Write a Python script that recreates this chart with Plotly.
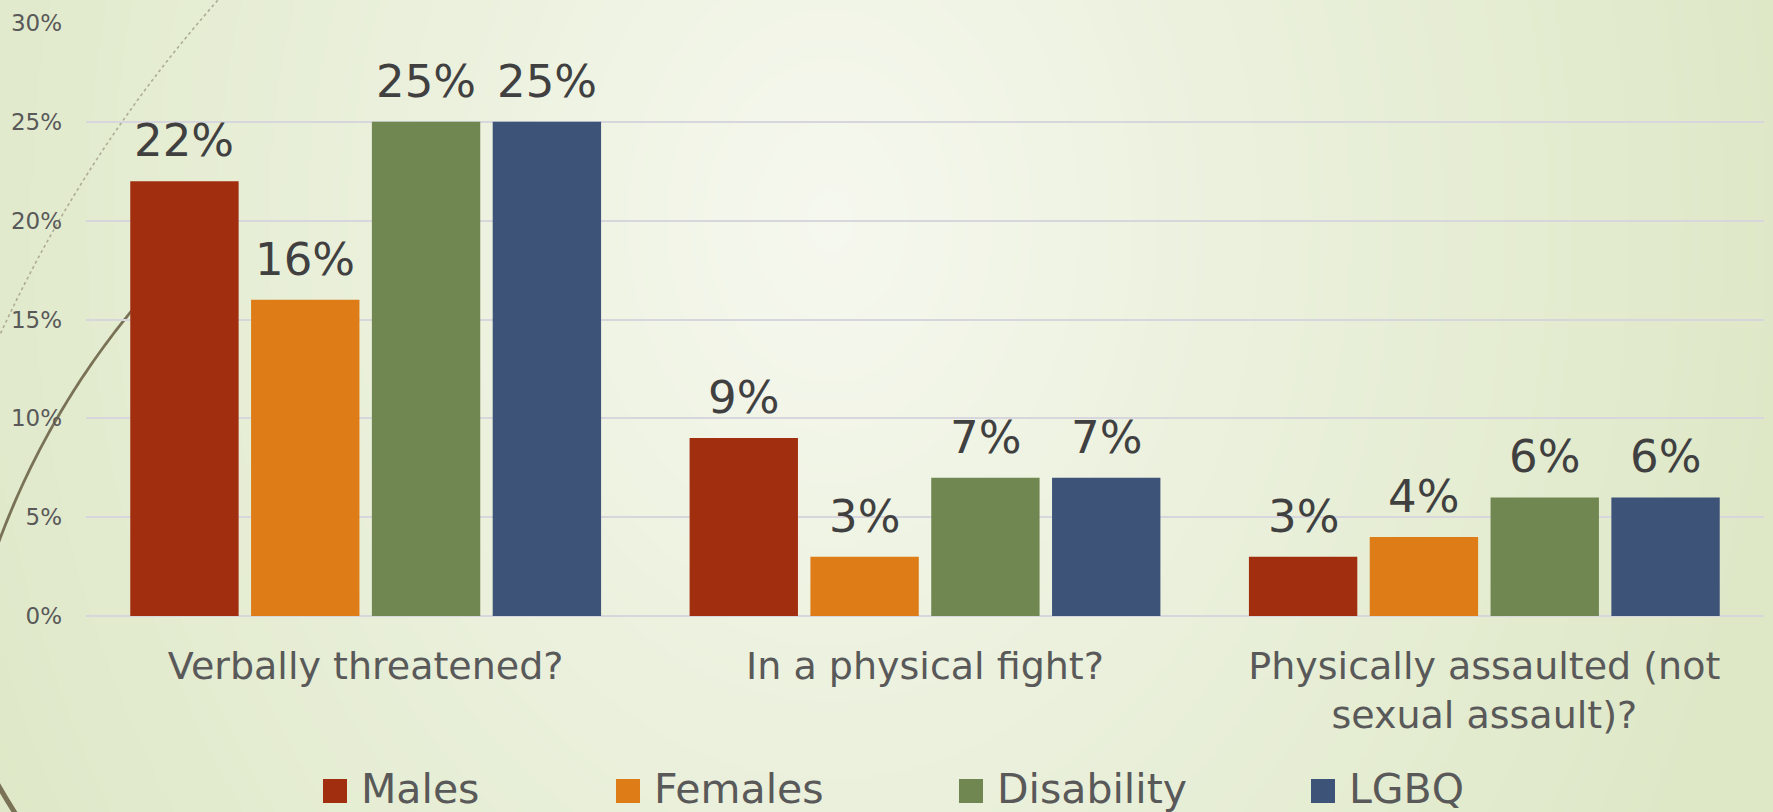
import base64
import math
import struct
import zlib

import numpy as np
import plotly.graph_objects as go

# ---- data -------------------------------------------------------------
categories = [
    "Verbally threatened?",
    "In a physical fight?",
    "Physically assaulted (not<br>sexual assault)?",
]
series_names = ["Males", "Females", "Disability", "LGBQ"]
males = [22, 9, 3]
females = [16, 3, 4]
disability = [25, 7, 6]
lgbq = [25, 7, 6]
y_ticks = [0, 5, 10, 15, 20, 25, 30]
y_tick_labels = ["0%", "5%", "10%", "15%", "20%", "25%", "30%"]

# ---- style ------------------------------------------------------------
colors = ["#A22E10", "#DE7C18", "#718752", "#3E5378"]
FONT = "DejaVu Sans"
W, H = 1773, 812
M_L, M_R, M_T, M_B = 86, 9, 23, 196
PW = W - M_L - M_R
PH = H - M_T - M_B
BARGAP, GROUPGAP = 0.136, 0.103
SLOT_PX = PW / len(categories) * (1 - BARGAP) / len(series_names)


def px(x):
    """pixel x -> paper x"""
    return (x - M_L) / PW


def py(y):
    """pixel y (from top) -> paper y"""
    return (H - M_B - y) / PH


def png_data_uri(rgb):
    h, w, _ = rgb.shape
    raw = b"".join(b"\x00" + rgb[r].tobytes() for r in range(h))

    def chunk(tag, data):
        return (struct.pack(">I", len(data)) + tag + data
                + struct.pack(">I", zlib.crc32(tag + data) & 0xFFFFFFFF))

    png = (b"\x89PNG\r\n\x1a\n"
           + chunk(b"IHDR", struct.pack(">IIBBBBB", w, h, 8, 2, 0, 0, 0))
           + chunk(b"IDAT", zlib.compress(raw, 9))
           + chunk(b"IEND", b""))
    return "data:image/png;base64," + base64.b64encode(png).decode()


def background():
    w, h = 444, 203
    xs = np.linspace(0, W, w)[None, :]
    ys = np.linspace(0, H, h)[:, None]
    t = np.sqrt(((xs - 830) / 960) ** 2 + ((ys - 220) / 1250) ** 2)
    t = np.clip(t, 0, 1) ** 0.95
    c0 = np.array([246, 248, 239], dtype=float)
    c1 = np.array([222, 232, 199], dtype=float)
    img = c0 + (c1 - c0) * t[..., None]
    return png_data_uri(np.round(img).astype(np.uint8))


def arc_path(cx, cy, r, x_from, x_to, upper=True, n=80):
    """Polyline (paper units) along a circle given in pixel space."""
    pts = []
    for k in range(n + 1):
        x = x_from + (x_to - x_from) * k / n
        dy = math.sqrt(max(r * r - (x - cx) ** 2, 0.0))
        y = cy - dy if upper else cy + dy
        pts.append((px(x), py(y)))
    return "M " + " L ".join(f"{a:.5f},{b:.5f}" for a, b in pts)


fig = go.Figure()

series = [males, females, disability, lgbq]
annotations = []
for i, (name, vals, col) in enumerate(zip(series_names, series, colors)):
    fig.add_trace(go.Bar(
        x=categories,
        y=vals,
        name=name,
        marker=dict(color=col, line=dict(width=0)),
        showlegend=False,
    ))
    # value labels above each bar
    for cat, v in zip(categories, vals):
        annotations.append(dict(
            xref="x", yref="y", x=cat, y=v,
            xshift=(i - (len(series_names) - 1) / 2) * SLOT_PX,
            yshift=12, xanchor="center", yanchor="bottom", showarrow=False,
            text=f"{v}%", font=dict(family=FONT, size=45, color="#404040"),
        ))

shapes = [
    # thin dotted swoosh at the top left
    dict(type="path", xref="paper", yref="paper", layer="below",
         path=arc_path(1243, 906, 1368, -30, 245),
         line=dict(color="#aeac96", width=1.6, dash="dot")),
    # thick swoosh rising from the left edge
    dict(type="path", xref="paper", yref="paper", layer="below",
         path=arc_path(750, 820, 801, -12, 160),
         line=dict(color="#7a7256", width=2.8)),
    # thick swoosh at the bottom-left corner
    dict(type="path", xref="paper", yref="paper", layer="below",
         path="M {:.5f},{:.5f} Q {:.5f},{:.5f} {:.5f},{:.5f}".format(
             px(-8), py(774), px(4), py(796), px(22), py(824)),
         line=dict(color="#7a7256", width=5)),
]

legend_left = [323, 616, 959, 1311]
for name, col, lx in zip(series_names, colors, legend_left):
    shapes.append(dict(type="rect", xref="paper", yref="paper",
                       x0=px(lx), x1=px(lx + 24), y0=py(803), y1=py(779),
                       fillcolor=col, line=dict(width=0)))
    annotations.append(dict(xref="paper", yref="paper", x=px(lx + 36), y=py(789),
                            xanchor="left", yanchor="middle", showarrow=False,
                            text=name, font=dict(family=FONT, size=41, color="#595959")))

fig.update_layout(
    width=W,
    height=H,
    margin=dict(l=M_L, r=M_R, t=M_T, b=M_B, autoexpand=False),
    paper_bgcolor="rgba(0,0,0,0)",
    plot_bgcolor="rgba(0,0,0,0)",
    barmode="group",
    bargap=BARGAP,
    bargroupgap=GROUPGAP,
    font=dict(family=FONT, color="#595959"),
    images=[dict(source=background(), xref="paper", yref="paper",
                 x=px(0), y=py(0), sizex=W / PW, sizey=H / PH,
                 xanchor="left", yanchor="top", sizing="stretch", layer="below")],
    shapes=shapes,
    annotations=annotations,
    xaxis=dict(
        showgrid=False, showline=False, zeroline=False, ticks="",
        tickfont=dict(family=FONT, size=38, color="#595959"),
        ticklabelstandoff=24,
    ),
    yaxis=dict(
        range=[0, 30], tickmode="array", tickvals=y_ticks, ticktext=y_tick_labels,
        showgrid=True, gridcolor="#d6d6dc", gridwidth=1.5,
        zeroline=True, zerolinecolor="#d6d6dc", zerolinewidth=1.7,
        showline=False, ticks="",
        tickfont=dict(family=FONT, size=23, color="#595959"),
        ticklabelstandoff=23,
    ),
)

fig.write_html("out.html")
